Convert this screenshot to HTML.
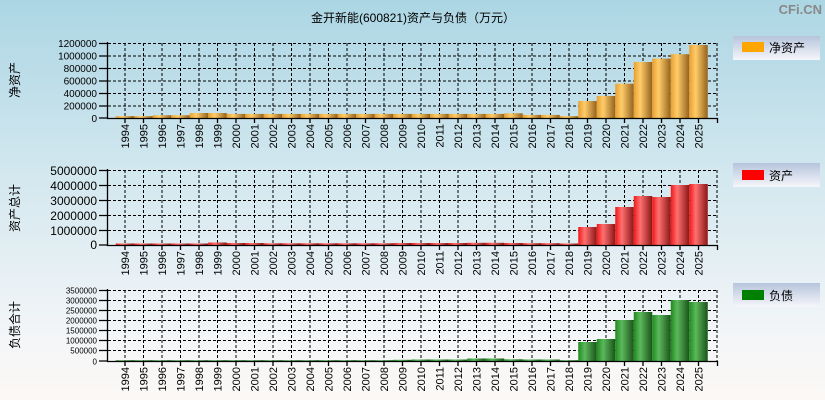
<!DOCTYPE html>
<html><head><meta charset="utf-8"><style>
html,body{margin:0;padding:0}
body{width:825px;height:400px;overflow:hidden;background:linear-gradient(#acd6e4 0%,#d4e8ef 45%,#f4f6f8 85%,#fcf8f5 100%);font-family:"Liberation Sans","Noto Sans CJK SC",sans-serif}
</style></head><body>
<svg width="825" height="400" xmlns="http://www.w3.org/2000/svg" style="position:absolute;left:0;top:0;font-family:'Liberation Sans','Noto Sans CJK SC',sans-serif">
<defs>
<linearGradient id="go" x1="0" x2="1" y1="0" y2="0"><stop offset="0" stop-color="#e8a030"/><stop offset="0.35" stop-color="#ffcc6a"/><stop offset="1" stop-color="#94621c"/></linearGradient>
<linearGradient id="gr" x1="0" x2="1" y1="0" y2="0"><stop offset="0" stop-color="#f01818"/><stop offset="0.35" stop-color="#ff7070"/><stop offset="1" stop-color="#8a1616"/></linearGradient>
<linearGradient id="gg" x1="0" x2="1" y1="0" y2="0"><stop offset="0" stop-color="#1e8a1e"/><stop offset="0.35" stop-color="#5cb85c"/><stop offset="1" stop-color="#1a531a"/></linearGradient>
<linearGradient id="lg" x1="0" x2="0" y1="0" y2="1"><stop offset="0" stop-color="#b6c4dc"/><stop offset="1" stop-color="#f6f6fa"/></linearGradient>
</defs>
<text x="413" y="22" font-size="12" text-anchor="middle" fill="#000">金开新能(600821)资产与负债（万元）</text>
<text x="822" y="14" font-size="13" text-anchor="end" fill="#888" font-weight="bold">CFi.CN</text>

<!-- side labels -->
<text transform="translate(19,80) rotate(-90)" font-size="12" text-anchor="middle">净资产</text>
<text transform="translate(19,208) rotate(-90)" font-size="12" text-anchor="middle">资产总计</text>
<text transform="translate(19,325) rotate(-90)" font-size="12" text-anchor="middle">负债合计</text>

<!-- legends -->
<rect x="733" y="36" width="87" height="24" fill="url(#lg)"/><rect x="742" y="42" width="22" height="10" fill="#ffa500"/><text x="769" y="52" font-size="12">净资产</text>
<rect x="733" y="163" width="87" height="24" fill="url(#lg)"/><rect x="742" y="170" width="22" height="10" fill="#ff0000"/><text x="769" y="180" font-size="12">资产</text>
<rect x="733" y="283" width="87" height="24" fill="url(#lg)"/><rect x="742" y="290" width="22" height="10" fill="#008000"/><text x="769" y="300" font-size="12">负债</text>

<g fill="none" stroke="#000" stroke-dasharray="3,2" stroke-width="1">
<!-- chart1 grid -->
<path d="M108 43.5H717M108 56H717M108 68.5H717M108 81H717M108 93.5H717M108 106H717M717 43V118"/>
<path d="M125 43V118M143.5 43V118M162 43V118M180.5 43V118M199 43V118M217.5 43V118M236 43V118M254.5 43V118M273 43V118M291.5 43V118M310 43V118M328.5 43V118M347 43V118M365.5 43V118M384 43V118M402.5 43V118M421 43V118M439.5 43V118M458 43V118M476.5 43V118M495 43V118M513.5 43V118M532 43V118M550.5 43V118M569 43V118M587.5 43V118M606 43V118M624.5 43V118M643 43V118M661.5 43V118M680 43V118M698.5 43V118"/>
<!-- chart2 grid -->
<path d="M108 170.5H717M108 185.5H717M108 200.5H717M108 215.5H717M108 230.5H717M717 170V245"/>
<path d="M125 170V245M143.5 170V245M162 170V245M180.5 170V245M199 170V245M217.5 170V245M236 170V245M254.5 170V245M273 170V245M291.5 170V245M310 170V245M328.5 170V245M347 170V245M365.5 170V245M384 170V245M402.5 170V245M421 170V245M439.5 170V245M458 170V245M476.5 170V245M495 170V245M513.5 170V245M532 170V245M550.5 170V245M569 170V245M587.5 170V245M606 170V245M624.5 170V245M643 170V245M661.5 170V245M680 170V245M698.5 170V245"/>
<!-- chart3 grid -->
<path d="M108 290.5H717M108 300.5H717M108 310.5H717M108 320.5H717M108 330.5H717M108 340.5H717M108 350.5H717M717 290V361"/>
<path d="M125 290V361M143.5 290V361M162 290V361M180.5 290V361M199 290V361M217.5 290V361M236 290V361M254.5 290V361M273 290V361M291.5 290V361M310 290V361M328.5 290V361M347 290V361M365.5 290V361M384 290V361M402.5 290V361M421 290V361M439.5 290V361M458 290V361M476.5 290V361M495 290V361M513.5 290V361M532 290V361M550.5 290V361M569 290V361M587.5 290V361M606 290V361M624.5 290V361M643 290V361M661.5 290V361M680 290V361M698.5 290V361"/>
</g>

<!-- bars chart1 -->
<g fill="url(#go)">
<rect x="115.75" y="116.1" width="18.5" height="1.9"/><rect x="134.25" y="116.1" width="18.5" height="1.9"/><rect x="152.75" y="115.2" width="18.5" height="2.8"/><rect x="171.25" y="115.2" width="18.5" height="2.8"/><rect x="189.75" y="113" width="18.5" height="5"/><rect x="208.25" y="113" width="18.5" height="5"/>
<rect x="226.75" y="113.9" width="18.5" height="4.1"/><rect x="245.25" y="113.9" width="18.5" height="4.1"/><rect x="263.75" y="113.9" width="18.5" height="4.1"/><rect x="282.25" y="113.9" width="18.5" height="4.1"/><rect x="300.75" y="113.9" width="18.5" height="4.1"/><rect x="319.25" y="113.9" width="18.5" height="4.1"/><rect x="337.75" y="113.9" width="18.5" height="4.1"/><rect x="356.25" y="113.9" width="18.5" height="4.1"/><rect x="374.75" y="113.9" width="18.5" height="4.1"/><rect x="393.25" y="113.9" width="18.5" height="4.1"/><rect x="411.75" y="113.9" width="18.5" height="4.1"/><rect x="430.25" y="113.9" width="18.5" height="4.1"/><rect x="448.75" y="113.9" width="18.5" height="4.1"/><rect x="467.25" y="113.9" width="18.5" height="4.1"/><rect x="485.75" y="113.9" width="18.5" height="4.1"/>
<rect x="504.25" y="113.3" width="18.5" height="4.7"/><rect x="522.75" y="114.9" width="18.5" height="3.1"/><rect x="541.25" y="114.9" width="18.5" height="3.1"/><rect x="559.75" y="116.1" width="18.5" height="1.9"/>
<rect x="578.25" y="101" width="18.5" height="17"/><rect x="596.75" y="96" width="18.5" height="22"/><rect x="615.25" y="83.7" width="18.5" height="34.3"/><rect x="633.75" y="62" width="18.5" height="56"/><rect x="652.25" y="58.6" width="18.5" height="59.4"/><rect x="670.75" y="54.2" width="18.5" height="63.8"/><rect x="689.25" y="45" width="18.5" height="73"/>
</g>
<!-- bars chart2 -->
<g fill="url(#gr)">
<rect x="115.75" y="243.5" width="18.5" height="1.5"/><rect x="134.25" y="243.5" width="18.5" height="1.5"/><rect x="152.75" y="243.5" width="18.5" height="1.5"/><rect x="171.25" y="243.5" width="18.5" height="1.5"/><rect x="189.75" y="243.5" width="18.5" height="1.5"/><rect x="208.25" y="242.5" width="18.5" height="2.5"/>
<rect x="226.75" y="243" width="18.5" height="2"/><rect x="245.25" y="243" width="18.5" height="2"/><rect x="263.75" y="243.3" width="18.5" height="1.7"/><rect x="282.25" y="243.3" width="18.5" height="1.7"/><rect x="300.75" y="243.3" width="18.5" height="1.7"/><rect x="319.25" y="243.3" width="18.5" height="1.7"/><rect x="337.75" y="243.3" width="18.5" height="1.7"/><rect x="356.25" y="243.3" width="18.5" height="1.7"/><rect x="374.75" y="243.3" width="18.5" height="1.7"/><rect x="393.25" y="243" width="18.5" height="2"/><rect x="411.75" y="243" width="18.5" height="2"/><rect x="430.25" y="243" width="18.5" height="2"/><rect x="448.75" y="243" width="18.5" height="2"/><rect x="467.25" y="242.8" width="18.5" height="2.2"/><rect x="485.75" y="242.8" width="18.5" height="2.2"/>
<rect x="504.25" y="243" width="18.5" height="2"/><rect x="522.75" y="243.2" width="18.5" height="1.8"/><rect x="541.25" y="243.2" width="18.5" height="1.8"/><rect x="559.75" y="243.5" width="18.5" height="1.5"/>
<rect x="578.25" y="227" width="18.5" height="18"/><rect x="596.75" y="224" width="18.5" height="21"/><rect x="615.25" y="207" width="18.5" height="38"/><rect x="633.75" y="196" width="18.5" height="49"/><rect x="652.25" y="197" width="18.5" height="48"/><rect x="670.75" y="185" width="18.5" height="60"/><rect x="689.25" y="184" width="18.5" height="61"/>
</g>
<!-- bars chart3 -->
<g fill="url(#gg)">
<rect x="115.75" y="360.2" width="18.5" height="0.8"/><rect x="134.25" y="360.2" width="18.5" height="0.8"/><rect x="152.75" y="360.2" width="18.5" height="0.8"/><rect x="171.25" y="360.2" width="18.5" height="0.8"/><rect x="189.75" y="360.2" width="18.5" height="0.8"/><rect x="208.25" y="360.2" width="18.5" height="0.8"/>
<rect x="226.75" y="360.2" width="18.5" height="0.8"/><rect x="245.25" y="360.2" width="18.5" height="0.8"/><rect x="263.75" y="360.2" width="18.5" height="0.8"/><rect x="282.25" y="360.2" width="18.5" height="0.8"/><rect x="300.75" y="360.2" width="18.5" height="0.8"/><rect x="319.25" y="360.2" width="18.5" height="0.8"/><rect x="337.75" y="360.2" width="18.5" height="0.8"/><rect x="356.25" y="360.2" width="18.5" height="0.8"/><rect x="374.75" y="360.2" width="18.5" height="0.8"/><rect x="393.25" y="359.8" width="18.5" height="1.2"/><rect x="411.75" y="359.5" width="18.5" height="1.5"/><rect x="430.25" y="359.5" width="18.5" height="1.5"/><rect x="448.75" y="359.5" width="18.5" height="1.5"/><rect x="467.25" y="358.5" width="18.5" height="2.5"/><rect x="485.75" y="358.5" width="18.5" height="2.5"/>
<rect x="504.25" y="359.3" width="18.5" height="1.7"/><rect x="522.75" y="359.5" width="18.5" height="1.5"/><rect x="541.25" y="359.5" width="18.5" height="1.5"/><rect x="559.75" y="360.2" width="18.5" height="0.8"/>
<rect x="578.25" y="342" width="18.5" height="19"/><rect x="596.75" y="339" width="18.5" height="22"/><rect x="615.25" y="320" width="18.5" height="41"/><rect x="633.75" y="312" width="18.5" height="49"/><rect x="652.25" y="315" width="18.5" height="46"/><rect x="670.75" y="300" width="18.5" height="61"/><rect x="689.25" y="302" width="18.5" height="59"/>
</g>

<!-- axes -->
<g stroke="#000" stroke-width="1.3" fill="none">
<path d="M107.5 42V118.5H717.5V123"/>
<path d="M107.5 169V245.5H717.5V250"/>
<path d="M107.5 289V361.5H717.5V366"/>
<path d="M99 43.5H108M99 56H108M99 68.5H108M99 81H108M99 93.5H108M99 106H108M99 118H108"/>
<path d="M99 170.5H108M99 185.5H108M99 200.5H108M99 215.5H108M99 230.5H108M99 245H108"/>
<path d="M99 290.5H108M99 300.5H108M99 310.5H108M99 320.5H108M99 330.5H108M99 340.5H108M99 350.5H108M99 361H108"/>
<path d="M125 118V123M143.5 118V123M162 118V123M180.5 118V123M199 118V123M217.5 118V123M236 118V123M254.5 118V123M273 118V123M291.5 118V123M310 118V123M328.5 118V123M347 118V123M365.5 118V123M384 118V123M402.5 118V123M421 118V123M439.5 118V123M458 118V123M476.5 118V123M495 118V123M513.5 118V123M532 118V123M550.5 118V123M569 118V123M587.5 118V123M606 118V123M624.5 118V123M643 118V123M661.5 118V123M680 118V123M698.5 118V123"/>
<path d="M125 245V250M143.5 245V250M162 245V250M180.5 245V250M199 245V250M217.5 245V250M236 245V250M254.5 245V250M273 245V250M291.5 245V250M310 245V250M328.5 245V250M347 245V250M365.5 245V250M384 245V250M402.5 245V250M421 245V250M439.5 245V250M458 245V250M476.5 245V250M495 245V250M513.5 245V250M532 245V250M550.5 245V250M569 245V250M587.5 245V250M606 245V250M624.5 245V250M643 245V250M661.5 245V250M680 245V250M698.5 245V250"/>
<path d="M125 361V366M143.5 361V366M162 361V366M180.5 361V366M199 361V366M217.5 361V366M236 361V366M254.5 361V366M273 361V366M291.5 361V366M310 361V366M328.5 361V366M347 361V366M365.5 361V366M384 361V366M402.5 361V366M421 361V366M439.5 361V366M458 361V366M476.5 361V366M495 361V366M513.5 361V366M532 361V366M550.5 361V366M569 361V366M587.5 361V366M606 361V366M624.5 361V366M643 361V366M661.5 361V366M680 361V366M698.5 361V366"/>
</g>

<!-- y labels -->
<g font-size="10" text-anchor="end" fill="#000">
<text x="97" y="47">1200000</text><text x="97" y="59.5">1000000</text><text x="97" y="72">800000</text><text x="97" y="84.5">600000</text><text x="97" y="97">400000</text><text x="97" y="109.5">200000</text><text x="97" y="122">0</text>
</g>
<g font-size="12" text-anchor="end" fill="#000">
<text x="97" y="175">5000000</text><text x="97" y="190">4000000</text><text x="97" y="205">3000000</text><text x="97" y="220">2000000</text><text x="97" y="235">1000000</text><text x="97" y="249">0</text>
</g>
<g font-size="8" text-anchor="end" fill="#000">
<text x="97" y="293.5">3500000</text><text x="97" y="303.5">3000000</text><text x="97" y="313.5">2500000</text><text x="97" y="323.5">2000000</text><text x="97" y="333.5">1500000</text><text x="97" y="343.5">1000000</text><text x="97" y="353.5">500000</text><text x="97" y="364.5">0</text>
</g>

<!-- x labels -->
<g font-size="11" text-anchor="end" fill="#000">
<text transform="translate(129,124) rotate(-90)">1994</text><text transform="translate(147.5,124) rotate(-90)">1995</text><text transform="translate(166,124) rotate(-90)">1996</text><text transform="translate(184.5,124) rotate(-90)">1997</text><text transform="translate(203,124) rotate(-90)">1998</text><text transform="translate(221.5,124) rotate(-90)">1999</text><text transform="translate(240,124) rotate(-90)">2000</text><text transform="translate(258.5,124) rotate(-90)">2001</text><text transform="translate(277,124) rotate(-90)">2002</text><text transform="translate(295.5,124) rotate(-90)">2003</text><text transform="translate(314,124) rotate(-90)">2004</text><text transform="translate(332.5,124) rotate(-90)">2005</text><text transform="translate(351,124) rotate(-90)">2006</text><text transform="translate(369.5,124) rotate(-90)">2007</text><text transform="translate(388,124) rotate(-90)">2008</text><text transform="translate(406.5,124) rotate(-90)">2009</text><text transform="translate(425,124) rotate(-90)">2010</text><text transform="translate(443.5,124) rotate(-90)">2011</text><text transform="translate(462,124) rotate(-90)">2012</text><text transform="translate(480.5,124) rotate(-90)">2013</text><text transform="translate(499,124) rotate(-90)">2014</text><text transform="translate(517.5,124) rotate(-90)">2015</text><text transform="translate(536,124) rotate(-90)">2016</text><text transform="translate(554.5,124) rotate(-90)">2017</text><text transform="translate(573,124) rotate(-90)">2018</text><text transform="translate(591.5,124) rotate(-90)">2019</text><text transform="translate(610,124) rotate(-90)">2020</text><text transform="translate(628.5,124) rotate(-90)">2021</text><text transform="translate(647,124) rotate(-90)">2022</text><text transform="translate(665.5,124) rotate(-90)">2023</text><text transform="translate(684,124) rotate(-90)">2024</text><text transform="translate(702.5,124) rotate(-90)">2025</text>
<text transform="translate(129,251) rotate(-90)">1994</text><text transform="translate(147.5,251) rotate(-90)">1995</text><text transform="translate(166,251) rotate(-90)">1996</text><text transform="translate(184.5,251) rotate(-90)">1997</text><text transform="translate(203,251) rotate(-90)">1998</text><text transform="translate(221.5,251) rotate(-90)">1999</text><text transform="translate(240,251) rotate(-90)">2000</text><text transform="translate(258.5,251) rotate(-90)">2001</text><text transform="translate(277,251) rotate(-90)">2002</text><text transform="translate(295.5,251) rotate(-90)">2003</text><text transform="translate(314,251) rotate(-90)">2004</text><text transform="translate(332.5,251) rotate(-90)">2005</text><text transform="translate(351,251) rotate(-90)">2006</text><text transform="translate(369.5,251) rotate(-90)">2007</text><text transform="translate(388,251) rotate(-90)">2008</text><text transform="translate(406.5,251) rotate(-90)">2009</text><text transform="translate(425,251) rotate(-90)">2010</text><text transform="translate(443.5,251) rotate(-90)">2011</text><text transform="translate(462,251) rotate(-90)">2012</text><text transform="translate(480.5,251) rotate(-90)">2013</text><text transform="translate(499,251) rotate(-90)">2014</text><text transform="translate(517.5,251) rotate(-90)">2015</text><text transform="translate(536,251) rotate(-90)">2016</text><text transform="translate(554.5,251) rotate(-90)">2017</text><text transform="translate(573,251) rotate(-90)">2018</text><text transform="translate(591.5,251) rotate(-90)">2019</text><text transform="translate(610,251) rotate(-90)">2020</text><text transform="translate(628.5,251) rotate(-90)">2021</text><text transform="translate(647,251) rotate(-90)">2022</text><text transform="translate(665.5,251) rotate(-90)">2023</text><text transform="translate(684,251) rotate(-90)">2024</text><text transform="translate(702.5,251) rotate(-90)">2025</text>
<text transform="translate(129,367) rotate(-90)">1994</text><text transform="translate(147.5,367) rotate(-90)">1995</text><text transform="translate(166,367) rotate(-90)">1996</text><text transform="translate(184.5,367) rotate(-90)">1997</text><text transform="translate(203,367) rotate(-90)">1998</text><text transform="translate(221.5,367) rotate(-90)">1999</text><text transform="translate(240,367) rotate(-90)">2000</text><text transform="translate(258.5,367) rotate(-90)">2001</text><text transform="translate(277,367) rotate(-90)">2002</text><text transform="translate(295.5,367) rotate(-90)">2003</text><text transform="translate(314,367) rotate(-90)">2004</text><text transform="translate(332.5,367) rotate(-90)">2005</text><text transform="translate(351,367) rotate(-90)">2006</text><text transform="translate(369.5,367) rotate(-90)">2007</text><text transform="translate(388,367) rotate(-90)">2008</text><text transform="translate(406.5,367) rotate(-90)">2009</text><text transform="translate(425,367) rotate(-90)">2010</text><text transform="translate(443.5,367) rotate(-90)">2011</text><text transform="translate(462,367) rotate(-90)">2012</text><text transform="translate(480.5,367) rotate(-90)">2013</text><text transform="translate(499,367) rotate(-90)">2014</text><text transform="translate(517.5,367) rotate(-90)">2015</text><text transform="translate(536,367) rotate(-90)">2016</text><text transform="translate(554.5,367) rotate(-90)">2017</text><text transform="translate(573,367) rotate(-90)">2018</text><text transform="translate(591.5,367) rotate(-90)">2019</text><text transform="translate(610,367) rotate(-90)">2020</text><text transform="translate(628.5,367) rotate(-90)">2021</text><text transform="translate(647,367) rotate(-90)">2022</text><text transform="translate(665.5,367) rotate(-90)">2023</text><text transform="translate(684,367) rotate(-90)">2024</text><text transform="translate(702.5,367) rotate(-90)">2025</text>
</g>
</svg>
</body></html>
